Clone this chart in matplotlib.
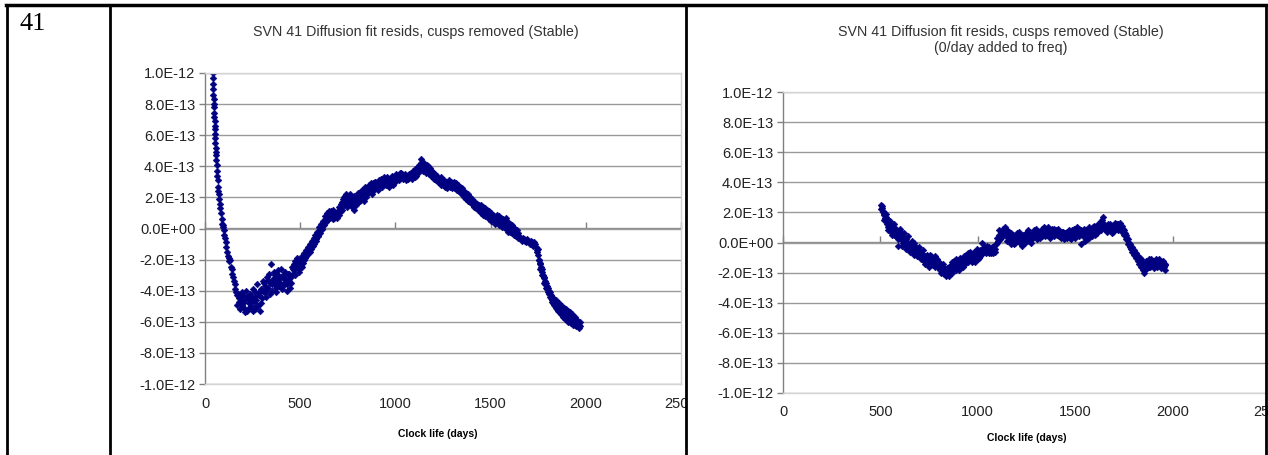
import numpy as np
import matplotlib.pyplot as plt
from matplotlib.lines import Line2D
from matplotlib.patches import Rectangle

# values, residuals in units of 1E-13
left_days = [40, 41, 42, 43, 44, 45, 46, 47, 48, 49, 50, 51, 52, 53, 54, 55, 56, 57, 58, 60,
             61, 63, 64, 66, 68, 70, 72, 75, 78, 81, 84, 87, 90, 93, 96, 99, 102, 105, 108, 112,
             116, 120, 124, 128, 132, 136, 140, 144, 148, 152, 156, 160, 164, 168, 172, 176, 180, 185, 190, 195,
             200, 205, 210, 215, 220, 225, 230, 235, 240, 245, 250, 255, 260, 265, 270, 275, 280, 285, 290, 295,
             300, 305, 310, 315, 320, 325, 330, 335, 340, 345, 350, 355, 360, 365, 370, 375, 380, 385, 390, 395,
             400, 405, 410, 415, 420, 425, 430, 435, 440, 445, 450, 455, 460, 465, 470, 475, 480, 485, 490, 495,
             500, 505, 510, 515, 520, 525, 530, 535, 540, 545, 550, 555, 560, 565, 570, 575, 580, 585, 590, 595,
             600, 605, 610, 615, 620, 625, 630, 635, 640, 645, 650, 655, 660, 665, 670, 675, 680, 685, 690, 700,
             705, 710, 715, 720, 725, 730, 735, 740, 745, 750, 755, 760, 765, 770, 775, 780, 785, 790, 795, 800,
             805, 810, 815, 820, 825, 830, 835, 840, 845, 850, 855, 860, 865, 870, 875, 880, 885, 890, 895, 900,
             905, 910, 915, 920, 925, 930, 935, 940, 945, 950, 955, 960, 965, 970, 975, 980, 985, 990, 995, 1000,
             1005, 1010, 1015, 1020, 1025, 1030, 1035, 1040, 1045, 1050, 1055, 1060, 1065, 1070, 1075, 1080, 1085, 1090, 1095, 1100,
             1105, 1110, 1115, 1120, 1125, 1130, 1135, 1140, 1145, 1150, 1155, 1160, 1165, 1170, 1175, 1180, 1185, 1190, 1195, 1200,
             1205, 1210, 1215, 1220, 1225, 1230, 1235, 1240, 1245, 1250, 1255, 1260, 1265, 1270, 1275, 1280, 1285, 1290, 1295, 1300,
             1305, 1310, 1315, 1320, 1325, 1330, 1335, 1340, 1345, 1350, 1355, 1360, 1365, 1370, 1375, 1380, 1385, 1390, 1395, 1400,
             1405, 1410, 1415, 1420, 1425, 1430, 1435, 1440, 1445, 1450, 1455, 1460, 1465, 1470, 1475, 1480, 1485, 1490, 1495, 1500,
             1505, 1510, 1515, 1520, 1525, 1530, 1535, 1540, 1545, 1550, 1555, 1560, 1565, 1570, 1575, 1580, 1585, 1590, 1595, 1600,
             1605, 1610, 1615, 1620, 1625, 1630, 1635, 1640, 1645, 1650, 1660, 1670, 1680, 1690, 1700, 1710, 1720, 1730, 1740, 1745,
             1750, 1755, 1760, 1765, 1770, 1775, 1780, 1785, 1790, 1795, 1800, 1805, 1810, 1815, 1820, 1825, 1830, 1835, 1840, 1845,
             1850, 1855, 1860, 1865, 1870, 1875, 1880, 1885, 1890, 1895, 1900, 1905, 1910, 1915, 1920, 1925, 1930, 1935, 1940, 1945,
             1950, 1955, 1960, 1965, 1970]
left_resid = [10.0, 9.7, 9.3, 9.0, 8.6, 8.3, 8.0, 7.8, 7.4, 7.2, 6.9, 6.6, 6.4, 6.1, 5.8, 5.5, 5.2, 4.9, 4.7, 4.4,
              4.1, 3.7, 3.4, 3.1, 2.7, 2.4, 2.2, 1.9, 1.6, 1.3, 1.0, 0.6, 0.3, 0.1, 0.2, -0.1, -0.4, -0.6, -0.9, -1.2,
              -1.5, -1.8, -1.9, -2.1, -2.0, -2.5, -2.6, -2.9, -3.1, -3.4, -3.6, -3.9, -4.1, -4.3, -4.2, -4.5, -4.7, -4.4, -4.6, -4.9,
              -4.3, -5.1, -4.6, -4.0, -5.3, -4.5, -4.8, -4.2, -5.0, -4.4, -3.9, -4.7, -5.2, -4.1, -4.6, -3.6, -5.0, -4.3, -5.3, -3.9,
              -4.5, -3.4, -4.1, -3.7, -4.4, -3.1, -3.8, -2.9, -3.5, -2.3, -4.0, -3.3, -2.8, -3.6, -3.0, -4.1, -3.4, -2.7, -3.7, -3.2,
              -2.6, -3.9, -3.0, -3.5, -2.8, -3.3, -4.0, -2.9, -3.4, -3.8, -3.1, -2.5, -2.9, -2.3, -2.7, -2.1, -2.5, -1.9, -2.3, -2.6,
              -2.0, -2.4, -1.8, -2.2, -1.6, -1.9, -1.4, -1.7, -1.2, -1.5, -1.0, -1.3, -0.8, -1.1, -0.6, -0.9, -0.4, -0.7, -0.2, -0.5,
              0.1, -0.3, 0.3, 0.0, 0.5, 0.2, 0.8, 0.4, 1.0, 0.6, 0.9, 0.7, 1.1, 0.8, 0.6, 0.9, 0.7, 1.0, 0.8, 1.1,
              0.9, 1.3, 1.6, 1.2, 1.9, 1.5, 2.1, 1.7, 1.4, 1.9, 1.6, 2.2, 1.8, 1.4, 2.0, 1.6, 1.2, 1.8, 1.5, 2.0,
              1.7, 2.3, 1.9, 2.1, 2.5, 2.2, 1.8, 2.4, 2.0, 2.6, 2.3, 2.8, 2.4, 2.7, 2.2, 2.9, 2.5, 2.7, 3.0, 2.6,
              2.9, 2.5, 3.1, 2.8, 3.0, 2.7, 3.2, 2.9, 3.1, 2.8, 3.3, 3.0, 2.7, 3.2, 2.9, 3.4, 3.1, 2.8, 3.3, 3.0,
              3.5, 3.2, 3.4, 3.1, 3.6, 3.3, 3.5, 3.2, 3.4, 3.3, 3.1, 3.4, 3.2, 3.5, 3.3, 3.6, 3.2, 3.4, 3.7, 3.5,
              3.8, 3.4, 3.9, 3.6, 4.1, 3.8, 4.5, 4.0, 3.7, 4.2, 3.9, 3.6, 4.1, 3.8, 3.5, 3.9, 3.4, 3.7, 3.3, 3.6,
              3.2, 3.5, 3.1, 3.4, 3.0, 3.2, 2.9, 3.3, 3.0, 2.8, 3.1, 2.7, 3.0, 2.6, 2.9, 3.1, 2.7, 3.0, 2.6, 2.9,
              2.7, 3.0, 2.6, 2.9, 2.5, 2.8, 2.4, 2.7, 2.3, 2.6, 2.2, 2.4, 2.1, 2.3, 1.9, 2.2, 1.8, 2.0, 1.7, 1.9,
              1.6, 1.8, 1.5, 1.7, 1.4, 1.6, 1.3, 1.5, 1.2, 1.5, 1.2, 1.4, 1.1, 1.3, 1.0, 1.2, 0.9, 1.1, 0.8, 1.0,
              0.7, 0.9, 0.6, 0.8, 0.5, 0.7, 0.9, 0.6, 0.8, 0.4, 0.7, 0.3, 0.6, 0.2, 0.5, 0.7, 0.1, 0.4, 0.0, 0.3,
              -0.1, 0.2, -0.2, 0.1, -0.3, 0.0, -0.4, -0.1, -0.3, -0.5, -0.7, -0.6, -0.8, -0.7, -0.9, -0.8, -1.0, -0.9, -1.2, -1.5,
              -1.7, -2.0, -2.3, -2.5, -2.8, -3.0, -3.2, -3.4, -3.5, -3.7, -3.8, -4.0, -4.1, -4.3, -4.4, -4.6, -4.5, -4.7, -4.8, -4.6,
              -4.9, -5.0, -4.8, -5.1, -5.2, -5.0, -5.3, -5.1, -5.4, -5.2, -5.5, -5.3, -5.6, -5.4, -5.7, -5.5, -5.8, -5.6, -5.9, -5.7,
              -6.0, -5.9, -6.1, -6.2, -6.0]

# second pass of readings across the width of the point band
left_days_b = [170, 182, 192, 202, 212, 222, 232, 242, 252, 262, 272, 282, 292, 302, 312, 322, 332, 342, 352, 362,
               372, 382, 392, 402, 412, 422, 432, 442, 452, 462, 472, 482, 492, 502, 512, 522, 532, 542, 552, 562,
               572, 582, 592, 602, 612, 622, 632, 642, 652, 662, 672, 682, 692, 702, 712, 722, 732, 742, 752, 762,
               772, 782, 792, 802, 812, 822, 832, 842, 852, 862, 872, 882, 892, 902, 912, 922, 932, 942, 952, 962,
               972, 982, 992, 1002, 1012, 1022, 1032, 1042, 1052, 1062, 1072, 1082, 1092, 1102, 1112, 1122, 1132, 1142, 1152, 1162,
               1172, 1182, 1192, 1202, 1212, 1222, 1232, 1242, 1252, 1262, 1272, 1282, 1292, 1302, 1312, 1322, 1332, 1342, 1352, 1362,
               1372, 1382, 1392, 1402, 1412, 1422, 1432, 1442, 1452, 1462, 1472, 1482, 1492, 1502, 1512, 1522, 1532, 1542, 1552, 1562,
               1572, 1582, 1592, 1602, 1612, 1622, 1632, 1642, 1655, 1665, 1675, 1685, 1695, 1705, 1715, 1725, 1735, 1742, 1748, 1752,
               1758, 1762, 1768, 1772, 1778, 1782, 1788, 1792, 1798, 1802, 1808, 1812, 1818, 1822, 1828, 1832, 1838, 1842, 1848, 1852,
               1858, 1862, 1868, 1872, 1878, 1882, 1888, 1892, 1898, 1902, 1908, 1912, 1918, 1922, 1928, 1932, 1938, 1942, 1948, 1952,
               1958, 1962, 1968]
left_resid_b = [-4.9, -5.2, -4.1, -4.8, -5.4, -4.4, -5.1, -4.6, -5.3, -4.4, -5.0, -4.1, -4.8, -4.0, -3.5, -4.0, -3.3, -4.2, -3.6, -3.2,
                -3.8, -3.0, -3.5, -3.1, -3.7, -3.2, -3.6, -2.9, -3.5, -2.6, -3.0, -2.2, -2.8, -2.2, -2.5, -2.0, -1.8, -1.4, -1.5, -1.0,
                -1.0, -0.8, -0.5, -0.1, 0.0, 0.2, 0.5, 0.7, 1.1, 0.9, 1.2, 1.0, 0.7, 1.4, 1.1, 1.7, 2.0, 2.2, 1.7, 2.0,
                1.6, 2.1, 1.8, 2.3, 1.8, 2.4, 2.0, 2.7, 2.2, 2.5, 2.9, 2.6, 3.0, 2.8, 2.8, 3.2, 3.0, 3.3, 2.9, 3.2,
                3.0, 3.3, 3.1, 3.3, 3.4, 3.3, 3.6, 3.4, 3.5, 3.2, 3.3, 3.5, 3.6, 3.3, 3.7, 4.0, 4.2, 4.3, 4.0, 3.9,
                4.0, 3.6, 3.5, 3.4, 3.3, 3.2, 3.1, 2.8, 3.0, 2.9, 2.8, 2.8, 2.8, 2.7, 2.6, 2.5, 2.4, 2.3, 2.2, 2.0,
                1.9, 1.8, 1.7, 1.6, 1.4, 1.3, 1.2, 1.1, 1.0, 0.9, 0.8, 0.8, 0.6, 0.5, 0.8, 0.3, 0.5, 0.2, 0.3, 0.1,
                0.1, 0.0, -0.2, -0.2, -0.3, -0.4, -0.5, -0.6, -0.6, -0.8, -0.7, -0.9, -0.8, -1.0, -0.9, -1.1, -1.0, -1.4, -1.3, -2.0,
                -2.2, -2.6, -2.6, -3.0, -3.1, -3.5, -3.6, -3.8, -3.9, -4.1, -4.2, -4.4, -4.5, -4.7, -4.8, -4.9, -5.0, -5.1, -5.2, -5.3,
                -5.3, -5.4, -5.5, -5.5, -5.6, -5.7, -5.7, -5.8, -5.8, -5.9, -6.0, -5.9, -6.0, -6.1, -6.0, -6.2, -6.1, -6.2, -6.3, -6.2,
                -6.3, -6.4, -6.3]

right_days = [502, 505, 508, 511, 515, 518, 521, 525, 528, 532, 535, 538, 541, 545, 548, 552, 556, 560, 564, 568,
              572, 576, 580, 584, 588, 592, 596, 600, 605, 610, 615, 620, 625, 630, 635, 640, 645, 650, 655, 660,
              665, 670, 675, 680, 685, 690, 695, 700, 705, 710, 715, 720, 725, 730, 735, 740, 745, 750, 755, 760,
              765, 770, 775, 780, 785, 790, 795, 800, 805, 810, 815, 820, 825, 830, 835, 840, 845, 850, 855, 860,
              865, 870, 875, 880, 885, 890, 895, 900, 905, 910, 915, 920, 925, 930, 935, 940, 945, 950, 955, 960,
              965, 970, 975, 980, 985, 990, 995, 1000, 1005, 1010, 1015, 1020, 1025, 1030, 1035, 1040, 1045, 1050, 1055, 1060,
              1065, 1070, 1075, 1080, 1085, 1090, 1095, 1100, 1105, 1110, 1115, 1120, 1125, 1130, 1135, 1140, 1145, 1150, 1155, 1160,
              1165, 1170, 1175, 1180, 1185, 1190, 1195, 1200, 1205, 1210, 1215, 1220, 1225, 1230, 1235, 1240, 1245, 1250, 1255, 1260,
              1265, 1270, 1275, 1280, 1285, 1290, 1295, 1300, 1305, 1310, 1315, 1320, 1325, 1330, 1335, 1340, 1345, 1350, 1355, 1360,
              1365, 1370, 1375, 1380, 1385, 1390, 1395, 1400, 1405, 1410, 1415, 1420, 1425, 1430, 1435, 1440, 1445, 1450, 1455, 1460,
              1465, 1470, 1475, 1480, 1485, 1490, 1495, 1500, 1505, 1510, 1515, 1520, 1525, 1530, 1535, 1540, 1545, 1550, 1555, 1560,
              1565, 1570, 1575, 1580, 1585, 1590, 1595, 1600, 1605, 1610, 1615, 1620, 1625, 1630, 1635, 1640, 1645, 1650, 1655, 1660,
              1665, 1670, 1675, 1680, 1685, 1690, 1695, 1700, 1705, 1710, 1715, 1720, 1725, 1730, 1735, 1740, 1745, 1750, 1755, 1760,
              1765, 1770, 1775, 1780, 1785, 1790, 1795, 1800, 1805, 1810, 1815, 1820, 1825, 1830, 1835, 1840, 1845, 1850, 1855, 1860,
              1865, 1870, 1875, 1880, 1885, 1890, 1895, 1900, 1905, 1910, 1915, 1920, 1925, 1930, 1935, 1940, 1945, 1950, 1955, 1960,
              1962]
right_resid = [2.5, 2.2, 2.4, 2.0, 2.1, 1.8, 1.9, 1.6, 1.7, 1.4, 1.2, 1.5, 1.0, 1.3, 0.9, 1.1, 0.7, 1.0, 0.6, 0.9,
               0.5, 0.8, 0.4, 0.7, -0.2, 0.6, 0.3, 0.5, 0.2, 0.6, 0.0, 0.3, -0.1, 0.2, -0.3, 0.0, -0.4, -0.2, -0.5, -0.3,
               -0.6, -0.4, 0.0, -0.5, -0.7, -0.4, -0.8, -0.6, -0.9, -0.7, -1.0, -0.8, -1.2, -0.9, -1.3, -1.0, -1.4, -1.1, -0.8, -1.3,
               -1.0, -1.5, -1.2, -0.9, -1.4, -1.1, -1.6, -1.3, -1.8, -1.5, -1.9, -1.6, -2.1, -1.8, -2.2, -1.7, -2.0, -1.6, -1.9, -1.5,
               -1.8, -1.3, -1.7, -1.2, -1.6, -1.1, -1.5, -1.2, -1.8, -1.0, -1.4, -1.1, -1.6, -0.9, -1.3, -0.8, -1.2, -0.7, -1.1, -0.6,
               -1.0, -0.8, -1.2, -0.6, -1.3, -0.9, -0.4, -0.7, -1.0, -0.5, -0.8, 0.0, -0.4, -0.6, -0.3, -0.5, -0.2, -0.4, -0.3, -0.6,
               -0.4, -0.7, -0.3, -0.5, -0.2, -0.6, -0.1, 0.3, 0.1, 0.5, 0.2, 0.7, 0.4, 0.9, 0.6, 1.0, 0.5, 0.8, 0.3, 0.7,
               0.2, 0.6, 0.0, 0.5, -0.1, 0.4, 0.1, 0.6, 0.2, 0.5, 0.0, 0.4, -0.2, 0.3, 0.1, 0.5, 0.2, 0.7, 0.3, 0.6,
               0.1, 0.4, 0.0, 0.5, 0.3, 0.8, 0.4, 0.6, 0.2, 0.5, 0.7, 0.3, 0.6, 0.9, 0.5, 0.7, 0.4, 0.8, 0.5, 1.0,
               0.6, 0.8, 0.4, 0.7, 0.5, 0.9, 0.6, 0.8, 0.5, 0.7, 0.4, 0.6, 0.3, 0.5, 0.7, 0.4, 0.6, 0.3, 0.5, 0.7,
               0.4, 0.6, 0.3, 0.5, 0.8, 0.5, 0.9, 0.6, 0.4, 0.8, 0.5, 0.9, 0.6, -0.1, 0.7, 0.4, 0.9, 0.5, 0.8, 0.2,
               0.7, 1.0, 0.6, 0.9, 0.4, 0.8, 1.1, 0.7, 1.0, 0.6, 1.2, 0.8, 1.1, 1.4, 1.0, 1.3, 1.7, 1.2, 0.9, 1.1,
               0.7, 1.0, 0.8, 1.2, 0.9, 1.1, 0.7, 1.0, 1.3, 0.9, 1.2, 0.8, 1.1, 1.3, 0.9, 0.7, 0.9, 0.5, 0.6, 0.2,
               0.3, -0.1, 0.0, -0.3, -0.4, -0.6, -0.5, -0.8, -0.7, -1.0, -0.9, -1.2, -1.1, -1.4, -1.0, -1.6, -1.3, -1.8, -2.0, -1.5,
               -1.2, -1.7, -1.4, -1.1, -1.6, -1.3, -1.5, -1.2, -1.7, -1.4, -1.1, -1.6, -1.3, -1.5, -1.2, -1.7, -1.4, -1.3, -1.6, -1.8,
               -1.5]

right_days_b = [510, 520, 530, 540, 550, 560, 570, 580, 590, 600, 610, 620, 630, 640, 650, 660, 670, 680, 690, 700,
                710, 720, 730, 740, 750, 760, 770, 780, 790, 800, 810, 820, 830, 840, 850, 860, 870, 880, 890, 900,
                910, 920, 930, 940, 950, 960, 970, 980, 990, 1000, 1010, 1020, 1030, 1040, 1050, 1060, 1070, 1080, 1090, 1100,
                1110, 1120, 1130, 1140, 1150, 1160, 1170, 1180, 1190, 1200, 1210, 1220, 1230, 1240, 1250, 1260, 1270, 1280, 1290, 1300,
                1310, 1320, 1330, 1340, 1350, 1360, 1370, 1380, 1390, 1400, 1410, 1420, 1430, 1440, 1450, 1460, 1470, 1480, 1490, 1500,
                1510, 1520, 1530, 1540, 1550, 1560, 1570, 1580, 1590, 1600, 1610, 1620, 1630, 1640, 1650, 1660, 1670, 1680, 1690, 1700,
                1710, 1720, 1730, 1740, 1750, 1760, 1770, 1780, 1790, 1800, 1810, 1820, 1830, 1840, 1850, 1860, 1870, 1880, 1890, 1900,
                1910, 1920, 1930, 1940, 1950, 1960]
right_resid_b = [2.3, 1.5, 1.9, 0.8, 1.4, 0.5, 1.2, 0.9, 0.2, 0.9, -0.2, 0.6, -0.4, 0.4, -0.6, 0.1, -0.8, -0.2, -0.9, -0.3,
                 -1.1, -0.5, -1.4, -0.8, -1.6, -0.9, -1.3, -1.6, -1.3, -1.7, -2.0, -1.4, -2.1, -1.9, -2.2, -1.7, -2.0, -1.5, -1.8, -1.4,
                 -1.6, -1.3, -1.5, -1.0, -1.3, -0.9, -1.3, -1.0, -0.7, -1.1, -0.9, -0.6, -0.3, -0.7, -0.5, -0.7, -0.5, -0.7, -0.4, 0.0,
                 0.8, 0.3, 0.6, 0.7, 0.1, 0.4, -0.1, 0.3, 0.0, 0.3, 0.7, 0.1, 0.5, 0.0, 0.4, 0.8, 0.2, 0.6, 0.5, 0.9,
                 0.3, 0.7, 0.4, 1.0, 0.6, 0.7, 0.3, 0.9, 0.4, 0.6, 0.9, 0.4, 0.7, 0.2, 0.6, 0.3, 0.8, 0.2, 0.7, 0.3,
                 1.0, 0.4, 0.8, 0.6, 0.1, 0.6, 0.3, 0.7, 1.0, 0.5, 0.9, 1.2, 0.8, 1.5, 1.0, 0.8, 1.2, 0.9, 0.6, 0.8,
                 1.1, 1.2, 1.0, 1.1, 0.8, 0.5, 0.2, -0.1, -0.3, -0.5, -0.7, -0.9, -1.2, -1.1, -1.4, -1.8, -1.3, -1.6, -1.1, -1.5,
                 -1.2, -1.4, -1.1, -1.5, -1.2, -1.4]

x_ticks = [0, 500, 1000, 1500, 2000, 2500]
y_ticks = [-1e-12, -8e-13, -6e-13, -4e-13, -2e-13, 0, 2e-13, 4e-13, 6e-13, 8e-13, 1e-12]
y_ticklabels = ["%.1E" % v for v in y_ticks]

title_left = "SVN 41 Diffusion fit resids, cusps removed (Stable)"
title_right = "SVN 41 Diffusion fit resids, cusps removed (Stable)\n(0/day added to freq)"
x_label = "Clock life (days)"

W, H = 1268, 455
plt.rcParams['font.family'] = ['Liberation Sans', 'DejaVu Sans']
fig = plt.figure(figsize=(W / 100, H / 100), dpi=100)


def px(x0, y0, x1, y1):
    # pixel box (left, top, right, bottom) -> figure fractions
    return [x0 / W, 1 - y1 / H, (x1 - x0) / W, (y1 - y0) / H]


def make_chart(box, days, resid, days_b, resid_b):
    ax = fig.add_axes(px(*box))
    scale = 1e-13
    xs = list(days) + list(days_b)
    ys = [r * scale for r in list(resid) + list(resid_b)]
    ax.plot(xs, ys, 'D', color='#000080',
            markersize=3.4, markeredgewidth=0.4, markeredgecolor='#000080')
    ax.set_xlim(0, 2500)
    ax.set_ylim(-1e-12, 1e-12)
    ax.set_xticks(x_ticks)
    ax.set_xticklabels([str(t) for t in x_ticks], fontsize=10.5, color='#222222')
    ax.set_yticks(y_ticks)
    ax.set_yticklabels(y_ticklabels, fontsize=10.5, color='#222222')
    ax.tick_params(axis='x', length=0, pad=9)
    ax.tick_params(axis='y', length=4, width=1, color='#808080', pad=3)
    ax.yaxis.grid(True, color='#9a9a9a', linewidth=1)
    ax.set_axisbelow(True)
    for s in ['top', 'right', 'bottom']:
        ax.spines[s].set_color('#d4d4d4')
        ax.spines[s].set_linewidth(1)
    ax.spines['left'].set_color('#808080')
    ax.spines['left'].set_linewidth(1)
    # horizontal axis crosses at zero with its tick marks there
    sec = ax.secondary_xaxis(0.5)
    sec.set_xticks(x_ticks)
    sec.set_xticklabels([])
    sec.tick_params(length=4, width=1, color='#808080', direction='out')
    for sp in sec.spines.values():
        sp.set_color('#909090')
        sp.set_linewidth(1)
    return ax


ax1 = make_chart((205, 73, 681, 384), left_days, left_resid, left_days_b, left_resid_b)
ax2 = make_chart((783, 92, 1270, 393), right_days, right_resid, right_days_b, right_resid_b)

fig.text(416 / W, 1 - 32 / H, title_left, ha='center', va='center', fontsize=10.3, color='#333333')
fig.text(1001 / W, 1 - 40 / H, title_right, ha='center', va='center', fontsize=10.3, color='#333333',
         linespacing=1.12)
fig.text(438 / W, 1 - 434 / H, x_label, ha='center', va='center', fontsize=7.5, fontweight='bold')
fig.text(1027 / W, 1 - 438 / H, x_label, ha='center', va='center', fontsize=7.5, fontweight='bold')

fig.text(20 / W, 1 - 24 / H, "41", ha='left', va='center', fontsize=19, family='Liberation Serif')

# cover what spills past the left cell
fig.add_artist(Rectangle((687 / W, 1 - 430 / H), 14 / W, 40 / H, transform=fig.transFigure,
                         facecolor='white', edgecolor='none', zorder=5))

# table lines
for xl in [7, 110, 686, 1266]:
    fig.add_artist(Line2D([xl / W, xl / W], [0, 1 - 5 / H], color='black', linewidth=2, zorder=6))
fig.add_artist(Line2D([6 / W, 1], [1 - 5 / H, 1 - 5 / H], color='black', linewidth=2.5, zorder=6))

fig.savefig('out.png', dpi=100)
